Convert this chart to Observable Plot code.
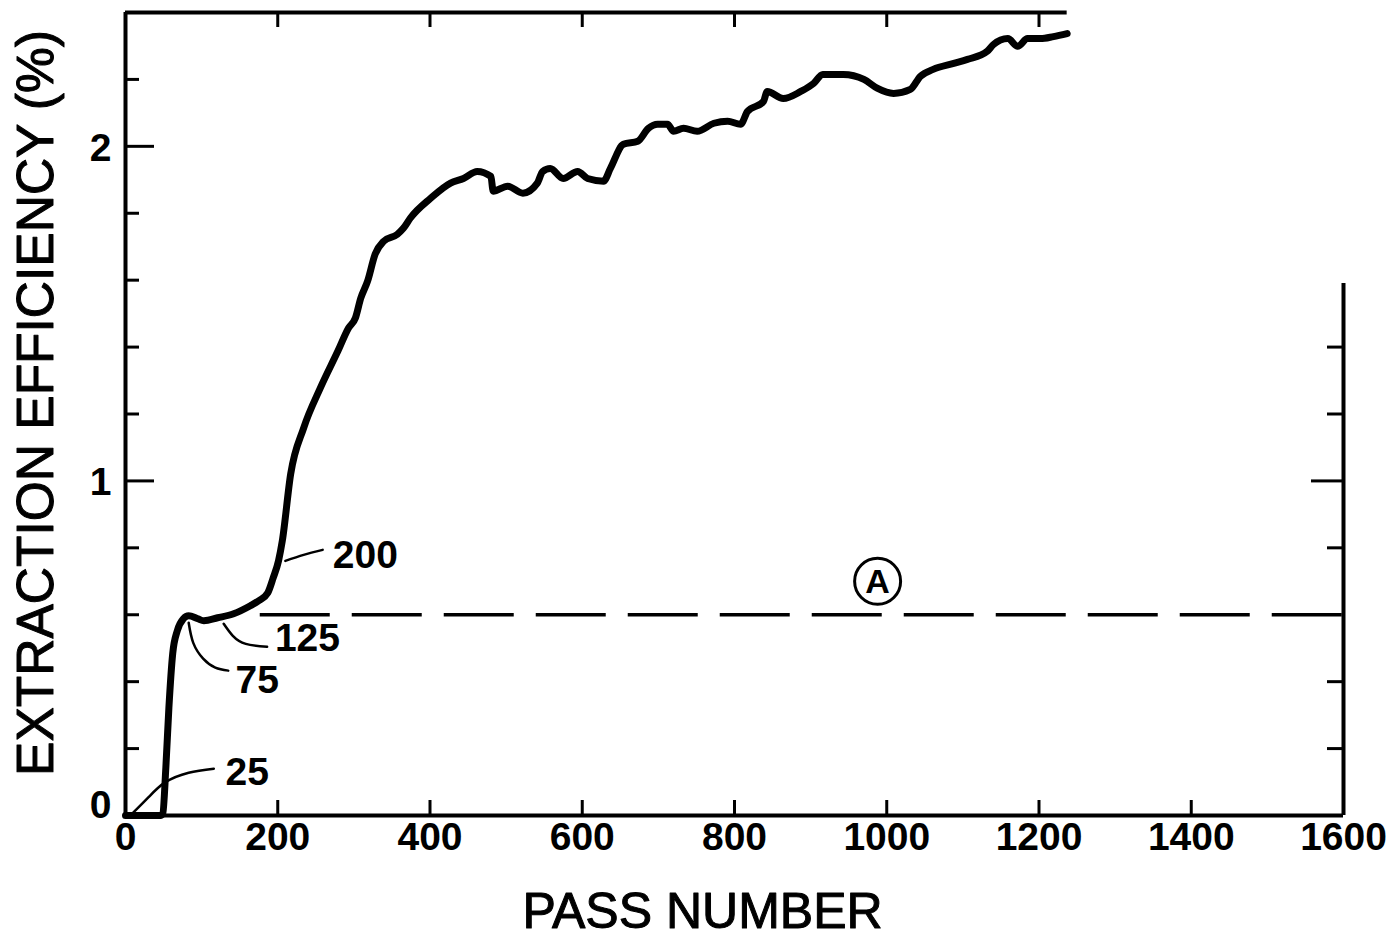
<!DOCTYPE html>
<html>
<head>
<meta charset="utf-8">
<script src="https://cdn.jsdelivr.net/npm/d3@7"></script>
<script src="https://cdn.jsdelivr.net/npm/@observablehq/plot@0.6"></script>
<style>
  html, body { margin: 0; padding: 0; background: #ffffff; }
  #chart svg { display: block; }
</style>
</head>
<body>
<div id="chart"></div>
<script>
// ---- data ----
const passNumber = [0, 46, 49, 53, 57, 62, 68, 76, 83, 95, 103, 121, 142, 164, 175, 187, 194, 201, 206, 217,
  234, 256, 279, 293, 302, 309, 318, 328, 339, 357, 365, 374, 401, 427, 444, 462, 480, 483, 502, 522,
  541, 548, 558, 575, 594, 607, 628, 637, 654, 673, 687, 699, 712, 720, 733, 751, 773, 791, 808, 817,
  838, 843, 864, 887, 904, 916, 943, 970, 988, 1009, 1031, 1044, 1061, 1088, 1106, 1132, 1140, 1159, 1172, 1185,
  1202, 1219, 1237];
const efficiency = [0, 0, 0.006, 0.143, 0.322, 0.484, 0.552, 0.588, 0.597, 0.588, 0.582, 0.591, 0.603, 0.627, 0.642, 0.666, 0.710, 0.761, 0.821, 1.021,
  1.158, 1.278, 1.388, 1.457, 1.487, 1.546, 1.597, 1.678, 1.716, 1.737, 1.755, 1.785, 1.845, 1.890, 1.904, 1.925, 1.910, 1.866, 1.881, 1.860,
  1.890, 1.925, 1.934, 1.904, 1.925, 1.904, 1.896, 1.934, 2.006, 2.015, 2.054, 2.066, 2.066, 2.045, 2.054, 2.045, 2.069, 2.075, 2.066, 2.104,
  2.134, 2.164, 2.143, 2.164, 2.188, 2.215, 2.215, 2.200, 2.173, 2.158, 2.170, 2.209, 2.230, 2.248, 2.260, 2.284, 2.304, 2.322, 2.299, 2.322,
  2.322, 2.328, 2.337];

// reference level "A"
const levelA = 0.6;
const levelAStart = 177;
const levelALabel = {pass: 988, value: 0.70, text: "A"};

// pass-number annotations: label and leader lines
const annotLabels = ["25", "75", "125", "200"];
const annotLabelPass = [160, 173, 239, 315];
const annotLabelValue = [0.128, 0.403, 0.528, 0.776];
const leader25Pass = [9, 30, 52, 83, 116];
const leader25Value = [0.006, 0.054, 0.099, 0.128, 0.140];
const leader75Pass = [83, 89, 102, 118, 135];
const leader75Value = [0.576, 0.516, 0.469, 0.442, 0.433];
const leader125Pass = [129, 141, 158, 186];
const leader125Value = [0.573, 0.537, 0.513, 0.504];
const leader200Pass = [210, 234, 259];
const leader200Value = [0.761, 0.779, 0.794];

// axes
const xTickLabels = [0, 200, 400, 600, 800, 1000, 1200, 1400, 1600];
const xBottomTicks = [200, 400, 600, 800, 1000, 1200, 1400];
const xTopTicks = [200, 400, 600, 800, 1000, 1200];
const yTickLabels = [1, 2];
const yZeroLabel = [0];
const yMinorTicks = [0.2, 0.4, 0.6, 0.8, 1.2, 1.4, 1.6, 1.8, 2.2];
const yMajorTicks = [1, 2];
const yRightMinorTicks = [0.2, 0.4, 0.8, 1.2, 1.4];
const yRightMajorTicks = [1];
const xDomain = [0, 1600];
const yDomain = [0, 2.4];
const rightFrameTop = 1.59;
const xTitle = "PASS NUMBER";
const yTitle = "EXTRACTION EFFICIENCY (%)";

// ---- build ----
const curve = passNumber.map((p, i) => ({pass: p, value: efficiency[i]}));
const toPts = (ps, vs) => ps.map((p, i) => ({pass: p, value: vs[i]}));
const leaders = [
  toPts(leader25Pass, leader25Value),
  toPts(leader75Pass, leader75Value),
  toPts(leader125Pass, leader125Value),
  toPts(leader200Pass, leader200Value)
];
const annots = annotLabels.map((t, i) => ({text: t, pass: annotLabelPass[i], value: annotLabelValue[i]}));

const W = 1386, H = 937;
const mL = 125, mR = 43, mT = 12, mB = 122;
const plotW = W - mL - mR, plotH = H - mT - mB;
const font = "'Liberation Sans', Arial, Helvetica, sans-serif";
const ink = "#000000";

const chart = Plot.plot({
  width: W,
  height: H,
  marginLeft: mL,
  marginRight: mR,
  marginTop: mT,
  marginBottom: mB,
  x: {domain: xDomain, axis: null},
  y: {domain: yDomain, axis: null},
  style: {background: "#ffffff", color: ink, fontFamily: font},
  marks: [
    // frame
    Plot.ruleX([xDomain[0]], {stroke: ink, strokeWidth: 4}),
    Plot.ruleY([yDomain[0]], {stroke: ink, strokeWidth: 4}),
    Plot.ruleY([yDomain[1]], {x1: xDomain[0], x2: passNumber[passNumber.length - 1], stroke: ink, strokeWidth: 4}),
    Plot.ruleX([xDomain[1]], {y1: yDomain[0], y2: rightFrameTop, stroke: ink, strokeWidth: 4}),
    // inward ticks
    Plot.ruleY(yMinorTicks, {y: d => d, insetRight: plotW - 14, stroke: ink, strokeWidth: 3}),
    Plot.ruleY(yMajorTicks, {y: d => d, insetRight: plotW - 29, stroke: ink, strokeWidth: 3}),
    Plot.ruleY(yRightMinorTicks, {y: d => d, insetLeft: plotW - 16, stroke: ink, strokeWidth: 3}),
    Plot.ruleY(yRightMajorTicks, {y: d => d, insetLeft: plotW - 32, stroke: ink, strokeWidth: 3}),
    Plot.ruleX(xBottomTicks, {x: d => d, insetTop: plotH - 15, stroke: ink, strokeWidth: 3}),
    Plot.ruleX(xTopTicks, {x: d => d, insetBottom: plotH - 15, stroke: ink, strokeWidth: 3}),
    // tick labels
    Plot.text(xTickLabels, {x: d => d, y: yDomain[0], text: d => String(d), dy: 22, lineAnchor: "middle",
      fontSize: 39, fontWeight: "bold", fill: ink}),
    Plot.text(yTickLabels, {x: xDomain[0], y: d => d, text: d => String(d), dx: -14, dy: 2, textAnchor: "end", lineAnchor: "middle",
      fontSize: 39, fontWeight: "bold", fill: ink}),
    Plot.text(yZeroLabel, {x: xDomain[0], y: d => d, text: d => String(d), dx: -14, dy: -10, textAnchor: "end", lineAnchor: "middle",
      fontSize: 39, fontWeight: "bold", fill: ink}),
    // axis titles
    Plot.text([xTitle], {frameAnchor: "bottom", text: d => d, dx: -32, dy: 96, textAnchor: "middle", lineAnchor: "middle",
      fontSize: 50, fill: ink, stroke: ink, strokeWidth: 1}),
    Plot.text([yTitle], {frameAnchor: "left", text: d => d, rotate: -90, dx: -89, dy: -11, textAnchor: "middle", lineAnchor: "middle",
      fontSize: 51.5, fill: ink, stroke: ink, strokeWidth: 1}),
    // reference level A
    Plot.ruleY([levelA], {x1: levelAStart, x2: xDomain[1], stroke: ink, strokeWidth: 3.5, strokeDasharray: "70,22"}),
    Plot.dot([levelALabel], {x: "pass", y: "value", r: 23, stroke: ink, strokeWidth: 3, fill: "none"}),
    Plot.text([levelALabel], {x: "pass", y: "value", text: "text", lineAnchor: "middle", dy: 1,
      fontSize: 34, fontWeight: "bold", fill: ink}),
    // leaders
    ...leaders.map(pts => Plot.line(pts, {x: "pass", y: "value", curve: "natural", stroke: ink, strokeWidth: 2.5})),
    // annotation labels
    Plot.text(annots, {x: "pass", y: "value", text: "text", lineAnchor: "middle",
      fontSize: 39, fontWeight: "bold", fill: ink}),
    // data curve
    Plot.line(curve, {x: "pass", y: "value", curve: "monotone-x", stroke: ink, strokeWidth: 7, strokeLinejoin: "round", strokeLinecap: "round"})
  ]
});

document.getElementById("chart").appendChild(chart);
</script>
</body>
</html>
